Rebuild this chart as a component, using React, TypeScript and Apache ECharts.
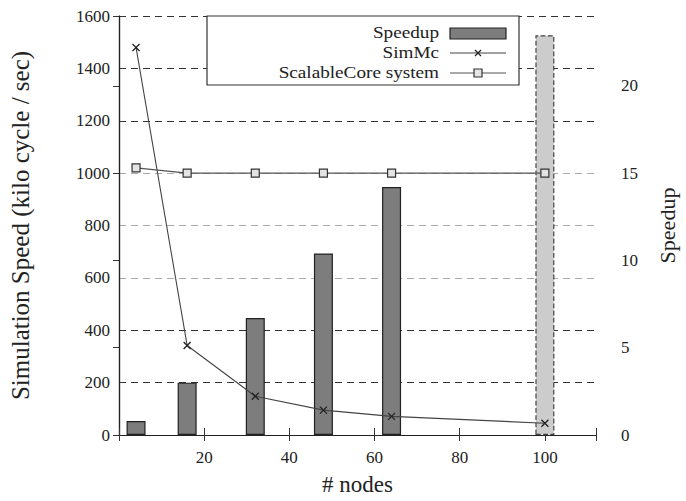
import React, { useEffect, useRef } from 'react';
import * as echarts from 'echarts';

// ---- data ----
const nodes = [4, 16, 32, 48, 64, 100];
const speedup = [0.8, 3.0, 6.7, 10.4, 14.2, 22.9];
const simMc = [1480, 342, 148, 95, 71, 45];
const scalableCore = [1020, 1000, 1000, 1000, 1000, 1000];
const seriesNames = ['Speedup', 'SimMc', 'ScalableCore system'];
const xTitle = '# nodes';
const yLeftTitle = 'Simulation Speed (kilo cycle / sec)';
const yRightTitle = 'Speedup';

const FONT = 'Liberation Serif';
const TXT = '#222';

export default function App() {
  const ref = useRef<HTMLDivElement>(null);
  useEffect(() => {
    if (!ref.current) return;
    const chart = echarts.init(ref.current, undefined, { renderer: 'svg' });
    const gridL = 117, gridT = 16, gridR = 606, gridB = 441;
    const lx = 439; // legend text right edge
    const sx0 = 450, sx1 = 506;
    const option: any = {
      animation: false,
      backgroundColor: '#fff',
      textStyle: { fontFamily: FONT },
      grid: { left: gridL, top: gridT, width: gridR - gridL, height: gridB - gridT, containLabel: false },
      xAxis: [
        {
          type: 'value', min: 0, max: 112, interval: 20, position: 'bottom',
          name: xTitle, nameLocation: 'middle', nameGap: 38,
          nameTextStyle: { fontFamily: FONT, fontSize: 23, color: TXT },
          axisLine: { show: true, lineStyle: { color: '#222', width: 1.2 } },
          axisTick: { show: true, inside: true, length: 7, lineStyle: { color: '#333' } },
          axisLabel: {
            fontFamily: FONT, fontSize: 17, color: TXT, margin: 14,
            formatter: (v: number) => (v > 0 && v % 20 === 0 ? String(v) : ''),
          },
          splitLine: { show: false },
        },
        {
          type: 'value', min: 0, max: 112, interval: 20, position: 'top',
          axisLine: { show: true, lineStyle: { color: '#222', width: 1.2 } },
          axisTick: { show: true, inside: true, length: 6, lineStyle: { color: '#333' } },
          axisLabel: { show: false },
          splitLine: { show: false },
        },
      ],
      yAxis: [
        {
          type: 'value', min: 0, max: 1600, interval: 200, position: 'left',
          name: yLeftTitle, nameLocation: 'middle', nameGap: 86, nameRotate: 90,
          nameTextStyle: { fontFamily: FONT, fontSize: 25, color: TXT },
          axisLine: { show: true, lineStyle: { color: '#222', width: 1.2 } },
          axisTick: { show: false },
          axisLabel: { fontFamily: FONT, fontSize: 17, color: TXT, margin: 9, formatter: (v: number) => String(v) },
          splitLine: {
            show: true,
            lineStyle: {
              color: ['#333', '#333', '#333', '#aaa', '#aaa', '#aaa', '#333', '#333', '#333'],
              type: [7, 5], width: 1.2,
            },
          },
        },
        {
          type: 'value', min: 0, max: 24, interval: 5, position: 'right',
          name: yRightTitle, nameLocation: 'middle', nameGap: 60, nameRotate: 90,
          nameTextStyle: { fontFamily: FONT, fontSize: 22, color: TXT },
          axisLine: { show: true, lineStyle: { color: '#222', width: 1.2 } },
          axisTick: { show: true, inside: true, length: 6, lineStyle: { color: '#333' } },
          axisLabel: {
            fontFamily: FONT, fontSize: 17, color: TXT, margin: 25,
            formatter: (v: number) => (v % 5 === 0 ? String(v) : ''),
          },
          splitLine: { show: false },
        },
      ],
      series: [
        {
          name: seriesNames[0], type: 'bar', xAxisIndex: 0, yAxisIndex: 1, barWidth: 19,
          data: nodes.map((n, i) => {
            const last = i === nodes.length - 1;
            return {
              value: [n, speedup[i]],
              itemStyle: last
                ? { color: '#cccccc', borderColor: '#444', borderWidth: 1.2, borderType: 'dashed' }
                : { color: '#7d7d7d', borderColor: '#222', borderWidth: 1.2 },
            };
          }),
        },
        {
          name: seriesNames[1], type: 'line', xAxisIndex: 0, yAxisIndex: 0,
          data: nodes.map((n, i) => [n, simMc[i]]),
          symbol: 'path://M0,0L10,10M10,0L0,10', symbolSize: 7,
          lineStyle: { color: '#444', width: 1.1 },
          itemStyle: { color: 'none', borderColor: '#222', borderWidth: 1.3 },
        },
        {
          name: seriesNames[2], type: 'line', xAxisIndex: 0, yAxisIndex: 0,
          data: nodes.map((n, i) => [n, scalableCore[i]]),
          symbol: 'rect', symbolSize: 8,
          lineStyle: { color: '#555', width: 1.1 },
          itemStyle: { color: '#e4e4e4', borderColor: '#333', borderWidth: 1.2 },
        },
      ],
      graphic: [
        {
          type: 'rect', shape: { x: 207, y: gridT, width: 312, height: 69 },
          style: { fill: '#fff', stroke: '#333', lineWidth: 1.2 }, z: 10,
        },
        ...seriesNames.map((t, i) => ({
          type: 'text', x: lx, y: 33 + i * 20, scaleX: 1.2, z: 11,
          style: { text: t, x: 0, y: 0, align: 'right', verticalAlign: 'middle', fontFamily: FONT, fontSize: 16, fill: TXT },
        })),
        {
          type: 'rect', shape: { x: sx0, y: 28, width: sx1 - sx0, height: 11 },
          style: { fill: '#7d7d7d', stroke: '#222', lineWidth: 1.2 }, z: 11,
        },
        { type: 'line', shape: { x1: sx0, y1: 53, x2: sx1, y2: 53 }, style: { stroke: '#444', lineWidth: 1.1 }, z: 11 },
        { type: 'line', shape: { x1: 475, y1: 50, x2: 481, y2: 56 }, style: { stroke: '#222', lineWidth: 1.3 }, z: 12 },
        { type: 'line', shape: { x1: 481, y1: 50, x2: 475, y2: 56 }, style: { stroke: '#222', lineWidth: 1.3 }, z: 12 },
        { type: 'line', shape: { x1: sx0, y1: 73, x2: sx1, y2: 73 }, style: { stroke: '#555', lineWidth: 1.1 }, z: 11 },
        {
          type: 'rect', shape: { x: 474, y: 69, width: 8, height: 8 },
          style: { fill: '#e4e4e4', stroke: '#333', lineWidth: 1.2 }, z: 12,
        },
      ],
    };
    chart.setOption(option);
    return () => chart.dispose();
  }, []);
  return <div ref={ref} style={{ position: 'fixed', left: 0, top: 0, width: 686, height: 501 }} />;
}
